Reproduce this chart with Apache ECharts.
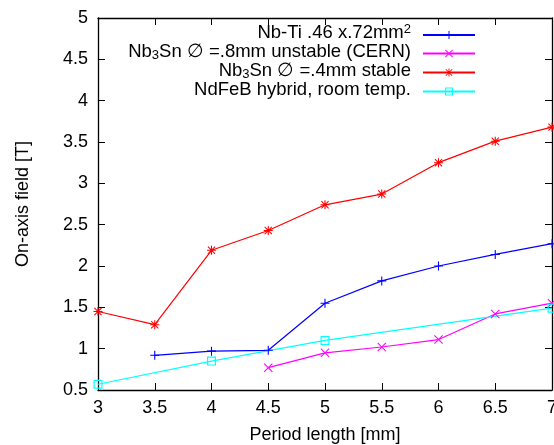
<!DOCTYPE html>
<html>
<head>
<meta charset="utf-8">
<script src="https://cdn.jsdelivr.net/npm/echarts@6/dist/echarts.min.js"></script>
<style>
html,body{margin:0;padding:0;background:#fff;}
#chart{width:554px;height:445px;}
</style>
</head>
<body>
<div id="chart"></div>
<script>
// ---- data ----
var xNbTi = [3.5, 4, 4.5, 5, 5.5, 6, 6.5, 7];
var yNbTi = [0.92, 0.97, 0.98, 1.55, 1.82, 2.0, 2.14, 2.27];

var xNb3Sn08 = [4.5, 5, 5.5, 6, 6.5, 7];
var yNb3Sn08 = [0.77, 0.95, 1.02, 1.11, 1.42, 1.55];

var xNb3Sn04 = [3, 3.5, 4, 4.5, 5, 5.5, 6, 6.5, 7];
var yNb3Sn04 = [1.45, 1.29, 2.19, 2.43, 2.74, 2.87, 3.25, 3.51, 3.68];

var xNdFeB = [3, 4, 5, 7];
var yNdFeB = [0.57, 0.85, 1.10, 1.49];

var seriesNames = ['Nb-Ti', 'Nb3Sn 0.8', 'Nb3Sn 0.4', 'NdFeB'];
var xAxisTitle = 'Period length [mm]';
var yAxisTitle = 'On-axis field [T]';

var legendLabels = [
  '{a|Nb-Ti .46 x.72mm}{sup|2}',
  '{a|Nb}{sub|3}{a|Sn \u2205 =.8mm unstable (CERN)}',
  '{a|Nb}{sub|3}{a|Sn \u2205 =.4mm stable}',
  '{a|NdFeB hybrid, room temp.}'
];

function pairs(xs, ys) { return xs.map(function (x, i) { return [x, ys[i]]; }); }

var FONT = 'Liberation Sans';
var FS = 18;
var LFS = 18.5;
var SYM_PLUS = 'path://M4.4,0h1.2v10h-1.2z M0,4.4h10v1.2h-10z';
var SYM_X = 'path://M0,0.8L0.8,0L10,9.2L9.2,10z M9.2,0L10,0.8L0.8,10L0,9.2z';
var SYM_STAR = 'path://M4.4,0h1.2v10h-1.2z M0,4.4h10v1.2h-10z M0.6,1.4L1.4,0.6L9.4,8.6L8.6,9.4z M8.6,0.6L9.4,1.4L1.4,9.4L0.6,8.6z';
var SYM_SQ = 'path://M0,0h10v10h-10z M1.3,1.3v7.4h7.4v-7.4z';

function mkSeries(name, xs, ys, color, sym) {
  return {
    name: name,
    type: 'line',
    data: pairs(xs, ys),
    symbol: sym,
    symbolSize: 9,
    showSymbol: true,
    showAllSymbol: true,
    clip: false,
    lineStyle: { color: color, width: 1.2 },
    itemStyle: { color: color },
    emphasis: { disabled: true },
    animation: false
  };
}

var legendRowCenters = [35, 54, 73, 92];
var legends = seriesNames.map(function (n, i) {
  return {
    orient: 'vertical',
    align: 'right',
    right: 78,
    top: legendRowCenters[i] - 12,
    padding: 0,
    itemWidth: 52,
    itemHeight: 10,
    selectedMode: false,
    data: [n],
    formatter: function () { return legendLabels[i]; },
    textStyle: {
      fontFamily: FONT, fontSize: LFS, color: '#000',
      padding: [0, 7, 4, 0],
      rich: {
        a: { fontFamily: FONT, fontSize: LFS, color: '#000', lineHeight: 20 },
        sub: { fontFamily: FONT, fontSize: 13, color: '#000', lineHeight: 6, verticalAlign: 'bottom' },
        sup: { fontFamily: FONT, fontSize: 13, color: '#000', lineHeight: 11, verticalAlign: 'top' }
      }
    }
  };
});

var chart = echarts.init(document.getElementById('chart'), null, { renderer: 'canvas' });
var axisCommon = {
  type: 'value',
  splitLine: { show: false },
  axisLine: { show: true, onZero: false, lineStyle: { color: '#000', width: 1.3 } },
  axisTick: { show: true, inside: true, length: 7, lineStyle: { color: '#000', width: 1 } }
};
chart.setOption({
  backgroundColor: '#fff',
  animation: false,
  grid: { left: 98, right: 2, top: 18, bottom: 55, containLabel: false, outerBoundsMode: 'none' },
  xAxis: [
    Object.assign({}, axisCommon, {
      min: 3, max: 7, interval: 0.5, position: 'bottom',
      name: xAxisTitle, nameLocation: 'middle', nameGap: 36,
      nameTextStyle: { fontFamily: FONT, fontSize: FS, color: '#000' },
      axisLabel: { fontFamily: FONT, fontSize: FS, color: '#000', margin: 9, hideOverlap: false }
    }),
    Object.assign({}, axisCommon, {
      min: 3, max: 7, interval: 0.5, position: 'top',
      axisLabel: { show: false }
    })
  ],
  yAxis: [
    Object.assign({}, axisCommon, {
      min: 0.5, max: 5, interval: 0.5, position: 'left',
      name: yAxisTitle, nameLocation: 'middle', nameGap: 66, nameRotate: 90,
      nameTextStyle: { fontFamily: FONT, fontSize: FS, color: '#000' },
      axisLabel: { fontFamily: FONT, fontSize: FS, color: '#000', margin: 10 }
    }),
    Object.assign({}, axisCommon, {
      min: 0.5, max: 5, interval: 0.5, position: 'right',
      axisLabel: { show: false }
    })
  ],
  legend: legends,
  series: [
    mkSeries(seriesNames[0], xNbTi, yNbTi, '#0000ff', SYM_PLUS),
    mkSeries(seriesNames[1], xNb3Sn08, yNb3Sn08, '#ff00ff', SYM_X),
    mkSeries(seriesNames[2], xNb3Sn04, yNb3Sn04, '#ff0000', SYM_STAR),
    mkSeries(seriesNames[3], xNdFeB, yNdFeB, '#00ffff', SYM_SQ)
  ]
});
</script>
</body>
</html>
